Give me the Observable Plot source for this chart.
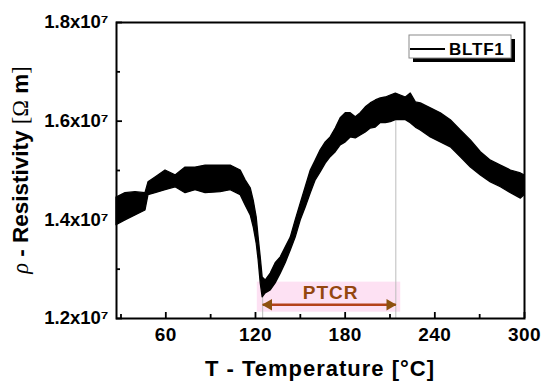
<!DOCTYPE html>
<html><head><meta charset="utf-8">
<script src="https://cdn.jsdelivr.net/npm/d3@7"></script>
<script src="https://cdn.jsdelivr.net/npm/@observablehq/plot@0.6"></script>
<style>
html,body{margin:0;padding:0;background:#fff;}
#chart{position:relative;width:550px;height:390px;}
</style></head><body><div id="chart"></div>
<script>
// ---- data (resistivity in units of 10^7 Ω m) ----
const temperature = [27,33,39.7,46.4,48.4,53.1,59.8,66.5,73.2,79.9,86.6,96.7,103.4,110.1,113.4,116.8,118.8,120.8,122.1,123.5,124.8,126.8,130.2,133.5,136.9,140.2,143.6,146.9,150.3,153.6,157,160.3,163.6,167,170.3,173.7,177,180.4,183.7,187.1,190.4,193.8,197.1,200.5,203.8,207.2,210.5,213.9,217.2,220.6,223.9,227.3,230.6,237.3,244,250.7,257.4,264.1,270.8,277.5,284.2,290.9,297.6,300];
const resistivityHigh = [1.445,1.454,1.456,1.454,1.476,1.486,1.500,1.490,1.506,1.506,1.510,1.510,1.510,1.500,1.480,1.464,1.439,1.405,1.364,1.324,1.283,1.277,1.291,1.312,1.324,1.344,1.364,1.399,1.433,1.466,1.500,1.520,1.541,1.557,1.567,1.585,1.606,1.616,1.616,1.608,1.616,1.628,1.636,1.642,1.646,1.648,1.652,1.656,1.652,1.648,1.656,1.638,1.636,1.626,1.616,1.602,1.581,1.561,1.537,1.520,1.510,1.500,1.494,1.490];
const resistivityLow = [1.389,1.399,1.409,1.419,1.450,1.454,1.460,1.466,1.454,1.460,1.454,1.456,1.460,1.450,1.429,1.409,1.385,1.352,1.318,1.271,1.243,1.251,1.257,1.271,1.291,1.312,1.338,1.364,1.399,1.425,1.454,1.480,1.496,1.514,1.527,1.537,1.551,1.557,1.567,1.565,1.571,1.577,1.585,1.587,1.596,1.596,1.598,1.602,1.602,1.602,1.596,1.587,1.581,1.567,1.557,1.547,1.527,1.506,1.490,1.476,1.466,1.454,1.443,1.450];

const xDomain = [27, 300];
const yDomain = [1.2, 1.8];
const xTicksMajor = [60, 120, 180, 240, 300];
const xTicksMinor = [30, 90, 150, 210, 270];
const yTicksMajor = [1.2, 1.4, 1.6, 1.8];
const yTicksMinor = [1.3, 1.5, 1.7];
const seriesName = "BLTF1";
const xLabel = "T - Temperature [°C]";

// PTCR annotation
const ptcrLabel = "PTCR";
const ptcrStart = [124.8];          // T
const ptcrEnd = [213.9];            // T
const ptcrLineTop = [1.25, 1.61];   // guide lines top values
const ptcrBandT = [121.2, 217.2];
const ptcrBandV = [1.2128, 1.2737];
const ptcrArrowV = [1.2278];
const ptcrTextT = [170.3];
const ptcrTextV = [1.2517];

// ---- build ----
const data = temperature.map((T, i) => ({T, hi: resistivityHigh[i], lo: resistivityLow[i]}));
const guides = [
  {T: ptcrStart[0], top: ptcrLineTop[0]},
  {T: ptcrEnd[0], top: ptcrLineTop[1]}
];
const band = [{x1: ptcrBandT[0], x2: ptcrBandT[1], y1: ptcrBandV[0], y2: ptcrBandV[1]}];
const arrow = [{x1: ptcrStart[0], x2: ptcrEnd[0], y: ptcrArrowV[0]}];

const W = 550, H = 390, mL = 116, mR = 26, mT = 22, mB = 72;
const iw = W - mL - mR, ih = H - mT - mB;
const font = "'Liberation Sans', Arial, Helvetica, sans-serif";
const brown = "#8c520f";

const svg = Plot.plot({
  width: W, height: H,
  marginLeft: mL, marginRight: mR, marginTop: mT, marginBottom: mB,
  style: {fontFamily: font, background: "white", color: "black", overflow: "visible"},
  x: {domain: xDomain},
  y: {domain: yDomain},
  marks: [
    Plot.rect(band, {x1: "x1", x2: "x2", y1: "y1", y2: "y2", fill: "#fde1f3"}),
    Plot.ruleX(guides, {x: "T", y1: yDomain[0], y2: "top", stroke: "#bdbdbd", strokeWidth: 1}),
    Plot.areaY(data, {x: "T", y1: "lo", y2: "hi", fill: "black", stroke: "black", strokeWidth: 1.3}),
    Plot.link(arrow, {x1: "x1", x2: "x2", y1: "y", y2: "y", stroke: "#b4421a", strokeWidth: 2.5}),
    Plot.dot(arrow, {x: "x1", y: "y", symbol: "triangle", r: 4.3, rotate: -90, dx: 6, fill: brown, stroke: null}),
    Plot.dot(arrow, {x: "x2", y: "y", symbol: "triangle", r: 4.3, rotate: 90, dx: -6, fill: brown, stroke: null}),
    Plot.text([ptcrLabel], {x: ptcrTextT[0], y: ptcrTextV[0], text: d => d, fill: "#94470f", fontWeight: "bold", fontSize: 19, lineAnchor: "middle"}),
    Plot.tickX(xTicksMajor, {x: d => d, insetTop: ih - 6, stroke: "black", strokeWidth: 1.8}),
    Plot.tickX(xTicksMinor, {x: d => d, insetTop: ih - 4, stroke: "black", strokeWidth: 1.8}),
    Plot.tickY(yTicksMajor, {y: d => d, insetRight: iw - 6, stroke: "black", strokeWidth: 1.8}),
    Plot.tickY(yTicksMinor, {y: d => d, insetRight: iw - 4, stroke: "black", strokeWidth: 1.8}),
    Plot.axisX(xTicksMajor, {tickSize: 0, tickPadding: 9, fontSize: 19, fontWeight: "bold", label: null, tickFormat: d => String(d)}),
    Plot.axisY(yTicksMajor, {tickSize: 0, tickPadding: 8, fontSize: 18.5, fontWeight: "bold", label: null, tickFormat: d => `${d.toFixed(1)}x10⁷`}),
    Plot.frame({stroke: "black", strokeWidth: 2})
  ]
});

document.getElementById("chart").appendChild(svg);
const s = d3.select(svg);
s.selectAll("[aria-label='x-axis tick label'] text").attr("letter-spacing", "0.5");
s.selectAll("[aria-label='text'] text").attr("letter-spacing", "1");

// x axis label
s.append("text")
  .attr("x", (mL + W - mR) / 2).attr("y", 376)
  .attr("text-anchor", "middle")
  .attr("font-family", font).attr("font-weight", "bold").attr("font-size", 22)
  .attr("letter-spacing", "1")
  .text(xLabel);

// y axis label with mixed fonts
const yl = s.append("text")
  .attr("transform", `translate(28,${(mT + H - mB) / 2}) rotate(-90)`)
  .attr("text-anchor", "middle")
  .attr("font-size", 22.5);
yl.append("tspan").attr("font-family", "'Liberation Serif', 'Times New Roman', serif").attr("font-style", "italic").text("ρ");
yl.append("tspan").attr("font-family", font).attr("font-weight", "bold").text(" - Resistivity ");
yl.append("tspan").attr("font-family", "'Liberation Serif', 'Times New Roman', serif").text("[Ω");
yl.append("tspan").attr("font-family", font).attr("font-weight", "bold").text(" m");
yl.append("tspan").attr("font-family", "'Liberation Serif', 'Times New Roman', serif").text("]");

// legend
const lg = s.append("g").attr("text-anchor", "start");
lg.append("rect").attr("x", 413).attr("y", 39).attr("width", 102).attr("height", 23).attr("fill", "black");
lg.append("rect").attr("x", 409).attr("y", 35).attr("width", 102).attr("height", 23).attr("fill", "white").attr("stroke", "#8a8a8a").attr("stroke-width", 1);
lg.append("line").attr("x1", 410).attr("x2", 445).attr("y1", 49).attr("y2", 49).attr("stroke", "black").attr("stroke-width", 2);
lg.append("text").attr("x", 449).attr("y", 54.5).attr("text-anchor", "start")
  .attr("font-family", font).attr("font-weight", "bold").attr("font-size", 17).attr("letter-spacing", "0.8")
  .text(seriesName);
</script></body></html>
